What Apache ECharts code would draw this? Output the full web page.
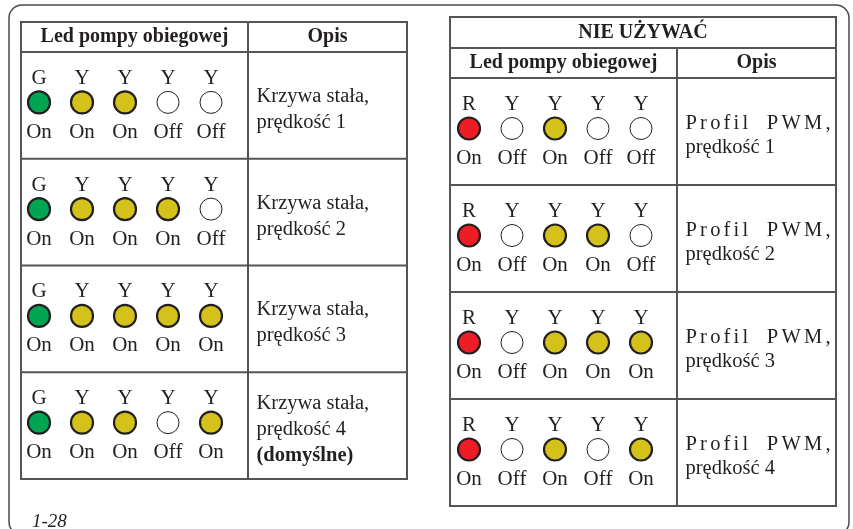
<!DOCTYPE html>
<html><head><meta charset="utf-8">
<script src="https://cdn.jsdelivr.net/npm/echarts@6/dist/echarts.min.js"></script>
<style>html,body{margin:0;padding:0;background:#fff}#c{width:853px;height:529px}</style>
</head><body><div id="c"></div>
<script>
// ---- data ----
const ledSlots = ['1','2','3','4','5'];
const rowNames = ['r1','r2','r3','r4'];
const leftLetters = ['G','Y','Y','Y','Y'];
const rightLetters = ['R','Y','Y','Y','Y'];
const leftStates = [[1,1,1,0,0],[1,1,1,1,0],[1,1,1,1,1],[1,1,1,0,1]];
const rightStates = [[1,0,1,0,0],[1,0,1,1,0],[1,0,1,1,1],[1,0,1,0,1]];
const leftDesc = ['Krzywa stała,\nprędkość 1','Krzywa stała,\nprędkość 2','Krzywa stała,\nprędkość 3','Krzywa stała,\nprędkość 4\n{b|(domyślne)}'];
const rightDesc = ['Profil PWM,\nprędkość 1','Profil PWM,\nprędkość 2','Profil PWM,\nprędkość 3','Profil PWM,\nprędkość 4'];
const headerLed = 'Led pompy obiegowej';
const headerDesc = 'Opis';
const headerWarn = 'NIE UŻYWAĆ';
const figLabel = '1-28';

// ---- layout / style ----
const FONT = '"Liberation Serif", "DejaVu Serif", serif';
const LINE = '#555555';
const INK = '#231f20';
const ledColor = {G:'#00a551', Y:'#d4c11a', R:'#ee1c25'};
const L = {x:21, w:386, div:248, top:22, rowsTop:52, rowH:106.75, ledFirst:39, ledStep:43, descX:256};
const R = {x:450, w:386, div:677, top:17, warnBot:48, rowsTop:78, rowH:107, ledFirst:469, ledStep:43, descX:685, justifyW:145};
const LED_SHIFT = -3;
const LED_FS = 21, DESC_FS = 20.5;

// justified first line for right table (rich tokens with fixed widths)
const mctx = document.createElement('canvas').getContext('2d');
mctx.font = DESC_FS + 'px ' + FONT;
const richJust = {};
function justify(line, target){
  const chars = line.split('');
  const nat = chars.map(ch => mctx.measureText(ch).width);
  const letterExtra = 3.2;
  const nGaps = chars.length - 1;
  const natSum = nat.reduce((a,b)=>a+b,0);
  const spaceIdx = chars.indexOf(' ');
  const spaceExtra = target - natSum - letterExtra*(nGaps-1);
  return chars.map((ch, i) => {
    const key = 'j' + i;
    let w = nat[i];
    if (i < nGaps) w += (i === spaceIdx ? spaceExtra : letterExtra);
    richJust[key] = {width: w, fontFamily: FONT, fontSize: DESC_FS, color: INK};
    return '{' + key + '|' + (ch === ' ' ? '\u00a0' : ch) + '}';
  }).join('');
}

function tableSeries(T, letters, states, descs, gi, isRight){
  const ledData = [], letterData = [], stateData = [], descData = [];
  states.forEach((row, r) => {
    row.forEach((on, c) => {
      const col = letters[c];
      ledData.push({value:[ledSlots[c], rowNames[r]], itemStyle: on ?
        {color: ledColor[col], borderColor: INK, borderWidth: 2.2, opacity: 1} :
        {color: '#ffffff', borderColor: INK, borderWidth: 1, opacity: 1}});
      letterData.push({value:[ledSlots[c], rowNames[r]], label:{formatter: col}});
      stateData.push({value:[ledSlots[c], rowNames[r]], label:{formatter: on ? 'On' : 'Off'}});
    });
    let text = descs[r];
    if (isRight) { const ls = text.split('\n'); ls[0] = justify(ls[0], T.justifyW); text = ls.join('\n'); }
    descData.push({value:[0, rowNames[r]], label:{formatter: text}});
  });
  const txt = {fontFamily: FONT, fontSize: LED_FS, color: INK};
  const dtxt = {fontFamily: FONT, fontSize: DESC_FS, color: INK};
  const clear = {color:'rgba(0,0,0,0)', opacity:1};
  return [
    {type:'scatter', xAxisIndex:gi, yAxisIndex:gi, symbol:'circle', symbolSize:22, data:ledData, silent:true, z:3},
    {type:'scatter', xAxisIndex:gi, yAxisIndex:gi, symbolSize:1, itemStyle:clear, data:letterData, silent:true,
      label:Object.assign({show:true, position:'inside', offset:[0,-24]}, txt)},
    {type:'scatter', xAxisIndex:gi, yAxisIndex:gi, symbolSize:1, itemStyle:clear, data:stateData, silent:true,
      label:Object.assign({show:true, position:'inside', offset:[0,30]}, txt)},
    {type:'scatter', xAxisIndex:gi+1, yAxisIndex:gi+1, symbolSize:1, itemStyle:clear, data:descData, silent:true,
      label:Object.assign({show:true, position:'right', distance:0, offset:[0,4], lineHeight: isRight ? 24 : 26,
        rich:Object.assign({b:{fontFamily:FONT, fontSize:DESC_FS, fontWeight:'bold', color:INK, lineHeight:26}}, richJust)}, dtxt)}
  ];
}

function grids(T){
  return [
    {left: T.ledFirst - T.ledStep/2, width: T.ledStep*5, top: T.rowsTop + LED_SHIFT, height: T.rowH*4},
    {left: T.descX, width: 100, top: T.rowsTop, height: T.rowH*4}
  ];
}
const hiddenCat = (d, inv) => ({type:'category', data:d, inverse:!!inv, show:false, boundaryGap:true});
const xAx = g => [Object.assign(hiddenCat(ledSlots), {gridIndex:g}), {type:'value', min:0, max:1, show:false, gridIndex:g+1}];
const yAx = g => [Object.assign(hiddenCat(rowNames, true), {gridIndex:g}), Object.assign(hiddenCat(rowNames, true), {gridIndex:g+1})];

function tableGraphics(T, hasWarn){
  const g = [];
  const bottom = T.rowsTop + T.rowH*4;
  const ln = (x1,y1,x2,y2) => ({type:'line', shape:{x1,y1,x2,y2}, style:{stroke:LINE, lineWidth:2}, silent:true});
  g.push({type:'rect', shape:{x:T.x, y:T.top, width:T.w, height:bottom - T.top}, style:{fill:'none', stroke:LINE, lineWidth:2}, silent:true});
  const headTop = hasWarn ? T.warnBot : T.top;
  if (hasWarn) {
    g.push(ln(T.x, T.warnBot, T.x+T.w, T.warnBot));
    g.push({type:'text', x:T.x+T.w/2, y:(T.top+T.warnBot)/2, style:{text:headerWarn, font:'bold 20px '+FONT, fill:INK, align:'center', verticalAlign:'middle'}, silent:true});
  }
  g.push(ln(T.div, headTop, T.div, bottom));
  for (let i=0;i<4;i++) g.push(ln(T.x, T.rowsTop + i*T.rowH, T.x+T.w, T.rowsTop + i*T.rowH));
  const hy = (headTop + T.rowsTop)/2;
  g.push({type:'text', x:(T.x+T.div)/2, y:hy, style:{text:headerLed, font:'bold 20px '+FONT, fill:INK, align:'center', verticalAlign:'middle'}, silent:true});
  g.push({type:'text', x:(T.div+T.x+T.w)/2, y:hy, style:{text:headerDesc, font:'bold 20px '+FONT, fill:INK, align:'center', verticalAlign:'middle'}, silent:true});
  return g;
}

const chart = echarts.init(document.getElementById('c'), null, {renderer:'canvas'});
const leftSeries = tableSeries(L, leftLetters, leftStates, leftDesc, 0, false);
const rightSeries = tableSeries(R, rightLetters, rightStates, rightDesc, 2, true);
const graphic = [
  {type:'rect', shape:{x:9, y:5, width:840, height:530, r:13}, style:{fill:'none', stroke:'#4a4a4a', lineWidth:1.5}, silent:true, z:-1},
  {type:'text', x:32, y:522, style:{text:figLabel, font:'italic 19px '+FONT, fill:INK, verticalAlign:'middle'}, silent:true}
].concat(tableGraphics(L, false), tableGraphics(R, true));

chart.setOption({
  animation:false,
  backgroundColor:'#ffffff',
  grid: grids(L).concat(grids(R)),
  xAxis: xAx(0).concat(xAx(2)),
  yAxis: yAx(0).concat(yAx(2)),
  series: leftSeries.concat(rightSeries),
  graphic: graphic
});
</script></body></html>
